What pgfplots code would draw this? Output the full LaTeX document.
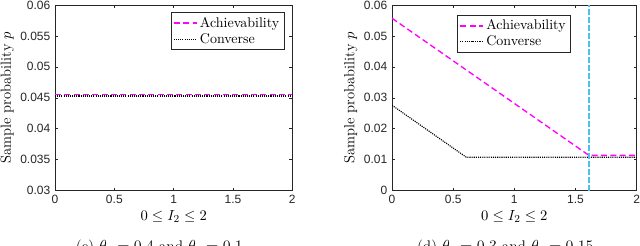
\documentclass[border=0pt]{standalone}
\usepackage{fontspec}
\newfontfamily\ticksans{Liberation Sans}
\usepackage{pgfplots}
\pgfplotsset{compat=1.18}
\definecolor{mgray}{rgb}{0.15,0.15,0.15}
\definecolor{vline}{rgb}{0.30,0.75,0.93}
\definecolor{mag}{rgb}{1,0,1}
\pgfplotsset{
  mstyle/.style={
    scale only axis,
    anchor=south west,
    xmin=0, xmax=2,
    xtick={0,0.5,1,1.5,2},
    xticklabels={0,0.5,1,1.5,2},
    tick align=inside,
    major tick length=2.2pt,
    axis line style={mgray, line width=0.4pt},
    tick style={mgray, line width=0.4pt},
    every tick label/.append style={font=\fontsize{9}{10}\ticksans, text=mgray},
    /pgf/number format/assume math mode=true,
    scaled y ticks=false,
    xlabel={$0 \le I_2 \le 2$},
    ylabel={Sample probability $p$},
    label style={font=\fontsize{11}{12}\selectfont},
    xlabel style={yshift=2pt},
    legend cell align=left,
    legend style={font=\fontsize{10.5}{12}\selectfont, draw=mgray, line width=0.4pt, inner sep=1.5pt, row sep=-1pt},
  },
  ach/.style={draw=mag, line width=1pt, dash pattern=on 4.5pt off 2.5pt},
  con/.style={draw=black, line width=0.85pt, dash pattern=on 0.8pt off 0.8pt},
}
\begin{document}
\begin{tikzpicture}
\useasboundingbox (0pt,0pt) rectangle (480pt,184.5pt);
\begin{axis}[mstyle,
  at={(41.25pt,41.5pt)}, width=178pt, height=139.3pt,
  ymin=0.03, ymax=0.06,
  ytick={0.03,0.035,0.04,0.045,0.05,0.055,0.06},
  yticklabels={0.03,0.035,0.04,0.045,0.05,0.055,0.06},
  ylabel style={yshift=-2pt},
  legend style={at={(0.966,0.961)}, anchor=north east},
]
\addplot[ach] coordinates {(0,0.0455) (2,0.0455)};
\addlegendentry{Achievability}
\addplot[con] coordinates {(0,0.0453) (2,0.0453)};
\addlegendentry{Converse}
\end{axis}
\begin{axis}[mstyle,
  at={(294pt,41.5pt)}, width=183.5pt, height=139.3pt,
  ymin=0, ymax=0.06,
  ytick={0,0.01,0.02,0.03,0.04,0.05,0.06},
  yticklabels={0,0.01,0.02,0.03,0.04,0.05,0.06},
  ylabel style={yshift=-2pt},
  legend style={at={(0.730,0.946)}, anchor=north east},
]
\addplot[ach] coordinates {(0,0.0557) (1.61,0.0114) (2,0.0114)};
\addlegendentry{Achievability}
\addplot[con] coordinates {(0,0.0276) (0.607,0.0108) (2,0.0108)};
\addlegendentry{Converse}
\addplot[draw=vline, line width=1pt, dash pattern=on 4.5pt off 1.5pt, forget plot] coordinates {(1.61,0) (1.61,0.06)};
\end{axis}
\node[anchor=north, inner sep=0pt, font=\fontsize{11.5}{13}\selectfont] at (119.5pt,4.5pt) {(c) $\theta_1 = 0.4$ and $\theta_2 = 0.1$};
\node[anchor=north, inner sep=0pt, font=\fontsize{11.5}{13}\selectfont] at (379pt,4.5pt) {(d) $\theta_1 = 0.3$ and $\theta_2 = 0.15$};
\end{tikzpicture}
\end{document}
